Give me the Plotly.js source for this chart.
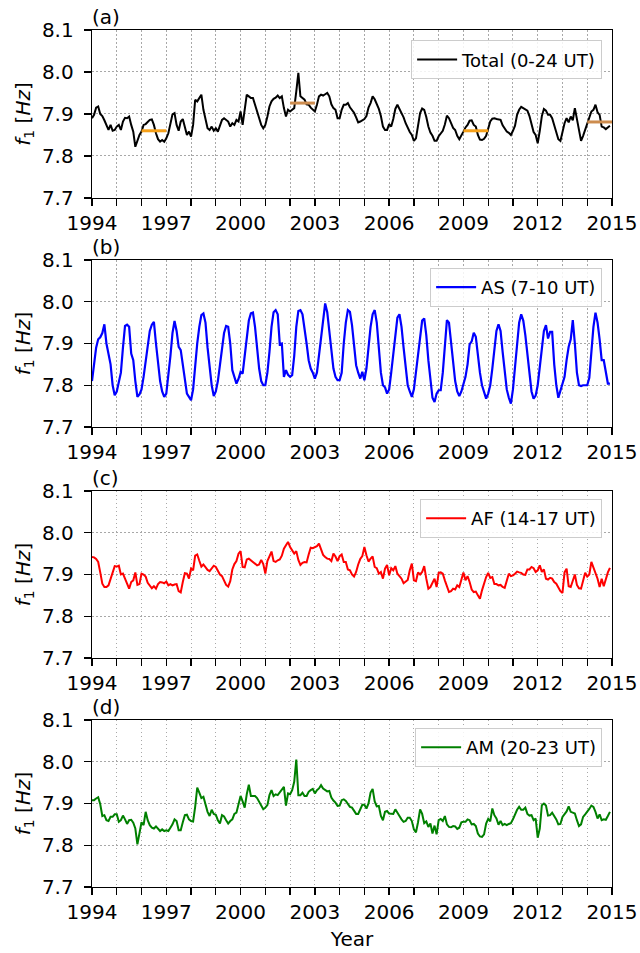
<!DOCTYPE html>
<html>
<head>
<meta charset="utf-8">
<script src="https://cdn.plot.ly/plotly-3.0.1.min.js"></script>
<style>html,body{margin:0;padding:0;background:#fff;}#chart{width:640px;height:953px;}</style>
</head>
<body>
<div id="chart"></div>
<script>
// ---- Data (monthly values, Jan 1994 .. Dec 2014) ----
const startYear = 1994;
const endYear = 2015;

const totalF1 = [
7.89,7.898,7.915,7.918,7.90,7.895,7.885,7.872,7.862,7.874,7.86,7.862,
7.87,7.874,7.862,7.882,7.891,7.89,7.894,7.874,7.858,7.822,7.838,7.85,
7.858,7.874,7.876,7.882,7.886,7.887,7.874,7.854,7.84,7.834,7.838,7.834,
7.842,7.854,7.878,7.899,7.902,7.874,7.86,7.882,7.888,7.87,7.85,7.858,
7.846,7.874,7.934,7.93,7.938,7.946,7.91,7.89,7.866,7.862,7.87,7.86,
7.866,7.858,7.874,7.886,7.89,7.886,7.882,7.87,7.878,7.874,7.886,7.882,
7.906,7.874,7.906,7.946,7.942,7.938,7.938,7.922,7.902,7.886,7.874,7.866,
7.874,7.894,7.918,7.93,7.936,7.939,7.944,7.938,7.942,7.914,7.894,7.91,
7.906,7.91,7.914,7.954,7.998,7.942,7.938,7.934,7.923,7.922,7.915,7.91,
7.906,7.922,7.942,7.946,7.944,7.947,7.95,7.942,7.923,7.914,7.91,7.89,
7.89,7.91,7.922,7.922,7.926,7.916,7.91,7.903,7.892,7.88,7.882,7.886,
7.888,7.895,7.915,7.926,7.942,7.935,7.925,7.912,7.895,7.87,7.862,7.862,
7.876,7.87,7.888,7.912,7.922,7.912,7.905,7.892,7.878,7.866,7.857,7.85,
7.836,7.842,7.868,7.902,7.913,7.91,7.893,7.87,7.856,7.848,7.836,7.836,
7.847,7.855,7.86,7.875,7.896,7.89,7.878,7.867,7.862,7.848,7.84,7.848,
7.858,7.868,7.874,7.884,7.885,7.874,7.87,7.85,7.839,7.838,7.841,7.848,
7.866,7.882,7.889,7.89,7.888,7.887,7.886,7.873,7.865,7.858,7.855,7.85,
7.86,7.872,7.898,7.91,7.917,7.914,7.91,7.908,7.895,7.872,7.857,7.85,
7.83,7.86,7.895,7.912,7.908,7.898,7.898,7.89,7.872,7.855,7.84,7.836,
7.858,7.878,7.89,7.88,7.894,7.885,7.914,7.885,7.858,7.836,7.848,7.862,
7.874,7.888,7.906,7.91,7.922,7.904,7.898,7.87,7.868,7.864,7.868,7.872
];

const asF1 = [
7.81,7.85,7.89,7.91,7.915,7.925,7.946,7.90,7.872,7.85,7.80,7.776,
7.785,7.81,7.83,7.89,7.942,7.945,7.94,7.876,7.86,7.81,7.772,7.778,
7.79,7.82,7.86,7.90,7.93,7.945,7.952,7.90,7.85,7.81,7.785,7.772,
7.78,7.82,7.87,7.925,7.954,7.93,7.892,7.884,7.85,7.81,7.78,7.772,
7.764,7.79,7.85,7.90,7.94,7.968,7.972,7.95,7.89,7.84,7.80,7.774,
7.785,7.81,7.85,7.89,7.925,7.942,7.94,7.90,7.836,7.82,7.804,7.815,
7.832,7.828,7.87,7.92,7.955,7.972,7.974,7.94,7.88,7.84,7.81,7.80,
7.80,7.83,7.88,7.94,7.975,7.98,7.97,7.898,7.90,7.82,7.836,7.825,
7.82,7.824,7.87,7.94,7.978,7.98,7.97,7.94,7.90,7.86,7.84,7.83,
7.816,7.83,7.87,7.92,7.96,7.996,7.975,7.93,7.88,7.84,7.82,7.812,
7.812,7.83,7.90,7.95,7.98,7.976,7.944,7.89,7.848,7.83,7.816,7.832,
7.812,7.84,7.89,7.94,7.97,7.98,7.95,7.89,7.83,7.80,7.795,7.78,
7.79,7.83,7.88,7.93,7.962,7.97,7.94,7.89,7.84,7.80,7.785,7.772,
7.79,7.83,7.88,7.92,7.955,7.96,7.92,7.86,7.81,7.77,7.76,7.78,
7.788,7.788,7.83,7.90,7.956,7.95,7.90,7.85,7.81,7.785,7.774,7.785,
7.80,7.82,7.85,7.898,7.905,7.926,7.916,7.87,7.83,7.80,7.785,7.768,
7.78,7.80,7.84,7.89,7.93,7.946,7.93,7.88,7.83,7.79,7.77,7.756,
7.79,7.84,7.90,7.95,7.97,7.955,7.92,7.87,7.82,7.785,7.768,7.775,
7.80,7.84,7.89,7.93,7.944,7.912,7.928,7.928,7.85,7.80,7.77,7.785,
7.80,7.82,7.86,7.892,7.91,7.956,7.90,7.83,7.80,7.798,7.80,7.80,
7.80,7.818,7.88,7.94,7.974,7.95,7.91,7.86,7.86,7.83,7.804,7.804
];

const afF1 = [
7.942,7.941,7.937,7.93,7.905,7.878,7.87,7.87,7.874,7.89,7.904,7.92,
7.919,7.921,7.9,7.902,7.89,7.878,7.866,7.882,7.886,7.905,7.875,7.877,
7.902,7.9,7.895,7.88,7.872,7.867,7.872,7.866,7.877,7.882,7.881,7.879,
7.883,7.874,7.877,7.874,7.876,7.877,7.86,7.857,7.882,7.903,7.902,7.89,
7.914,7.91,7.945,7.948,7.933,7.919,7.924,7.917,7.911,7.908,7.916,7.921,
7.918,7.91,7.9,7.896,7.886,7.875,7.871,7.884,7.912,7.925,7.932,7.95,
7.956,7.918,7.917,7.936,7.938,7.934,7.931,7.926,7.922,7.924,7.935,7.925,
7.902,7.932,7.944,7.955,7.932,7.93,7.934,7.936,7.945,7.962,7.97,7.978,
7.966,7.958,7.95,7.956,7.935,7.923,7.928,7.93,7.929,7.948,7.964,7.963,
7.966,7.968,7.974,7.959,7.947,7.942,7.938,7.937,7.932,7.95,7.943,7.932,
7.944,7.948,7.93,7.93,7.912,7.91,7.9,7.895,7.906,7.924,7.937,7.944,
7.966,7.946,7.931,7.938,7.943,7.918,7.915,7.902,7.906,7.89,7.914,7.923,
7.898,7.915,7.91,7.92,7.902,7.896,7.89,7.879,7.884,7.887,7.91,7.926,
7.886,7.884,7.905,7.9,7.906,7.92,7.89,7.866,7.87,7.882,7.89,7.87,
7.904,7.905,7.902,7.886,7.87,7.858,7.86,7.866,7.864,7.874,7.87,7.888,
7.905,7.886,7.896,7.882,7.864,7.858,7.859,7.85,7.842,7.862,7.88,7.894,
7.904,7.892,7.894,7.877,7.877,7.874,7.875,7.87,7.868,7.884,7.902,7.896,
7.898,7.902,7.907,7.905,7.904,7.9,7.899,7.912,7.912,7.918,7.915,7.906,
7.91,7.922,7.906,7.912,7.89,7.888,7.892,7.89,7.882,7.878,7.87,7.86,
7.856,7.905,7.914,7.872,7.87,7.885,7.9,7.875,7.867,7.866,7.885,7.904,
7.895,7.9,7.93,7.918,7.902,7.89,7.87,7.89,7.872,7.89,7.905,7.916
];

const amF1 = [
7.908,7.908,7.912,7.915,7.898,7.87,7.872,7.86,7.858,7.868,7.868,7.874,
7.874,7.856,7.86,7.871,7.862,7.851,7.86,7.861,7.854,7.84,7.802,7.826,
7.855,7.848,7.88,7.86,7.848,7.842,7.84,7.845,7.84,7.834,7.838,7.834,
7.836,7.834,7.842,7.85,7.862,7.858,7.836,7.836,7.855,7.872,7.873,7.862,
7.858,7.857,7.892,7.938,7.926,7.913,7.916,7.898,7.88,7.87,7.885,7.875,
7.873,7.86,7.852,7.872,7.869,7.86,7.852,7.858,7.862,7.875,7.878,7.898,
7.918,7.905,7.89,7.922,7.945,7.918,7.918,7.918,7.913,7.905,7.896,7.886,
7.89,7.896,7.92,7.932,7.918,7.922,7.92,7.926,7.932,7.94,7.895,7.924,
7.922,7.932,7.952,8.005,7.92,7.92,7.926,7.918,7.918,7.928,7.932,7.935,
7.924,7.932,7.936,7.944,7.936,7.932,7.929,7.93,7.914,7.907,7.902,7.894,
7.895,7.908,7.91,7.906,7.9,7.892,7.89,7.882,7.875,7.875,7.885,7.897,
7.897,7.888,7.9,7.926,7.935,7.905,7.893,7.894,7.87,7.86,7.88,7.882,
7.876,7.876,7.875,7.886,7.876,7.87,7.862,7.856,7.858,7.866,7.866,7.858,
7.838,7.831,7.855,7.886,7.875,7.853,7.857,7.844,7.852,7.828,7.847,7.826,
7.86,7.863,7.858,7.87,7.85,7.844,7.843,7.846,7.845,7.839,7.842,7.855,
7.856,7.856,7.862,7.86,7.85,7.851,7.846,7.828,7.821,7.82,7.826,7.852,
7.863,7.857,7.888,7.872,7.864,7.849,7.858,7.848,7.851,7.848,7.851,7.853,
7.862,7.876,7.885,7.892,7.885,7.885,7.89,7.875,7.871,7.872,7.86,7.864,
7.818,7.84,7.896,7.9,7.895,7.871,7.872,7.878,7.87,7.862,7.85,7.851,
7.868,7.875,7.881,7.893,7.88,7.878,7.876,7.86,7.846,7.85,7.868,7.874,
7.88,7.887,7.895,7.892,7.88,7.864,7.874,7.86,7.862,7.861,7.87,7.88
];

// Solar-cycle mean levels of the total series (panel a)
const minPeriodStart = [1996, 2009];
const minPeriodEnd   = [1997, 2010];
const minPeriodLevel = [7.86, 7.86];
const maxPeriodStart = [2002, 2014];
const maxPeriodEnd   = [2003, 2015];
const maxPeriodLevel = [7.926, 7.881];

const seriesNames = ['Total (0-24 UT)', 'AS (7-10 UT)', 'AF (14-17 UT)', 'AM (20-23 UT)'];
const seriesColors = ['#000000', '#0000ff', '#ff0000', '#008000'];
const panelLabels = ['(a)', '(b)', '(c)', '(d)'];
const yTickVals = [7.7, 7.8, 7.9, 8.0, 8.1];
const yTickText = ['7.7', '7.8', '7.9', '8.0', '8.1'];

// ---- Build ----
const months = [];
for (let y = startYear; y < endYear; y++) {
  for (let m = 0; m < 12; m++) months.push(y + m / 12);
}
const yearTicks = [];
const yearText = [];
for (let y = startYear; y <= endYear; y++) {
  yearTicks.push(y);
  yearText.push((y - startYear) % 3 === 0 ? String(y) : '');
}

const allSeries = [totalF1, asF1, afF1, amF1];
const domains = [[0.8040, 1.0], [0.5368, 0.7316], [0.2672, 0.4621], [0.0, 0.1949]];
const legendY = [0.988, 0.7223, 0.4527, 0.1855];

const traces = [];
allSeries.forEach((vals, i) => {
  const sfx = i === 0 ? '' : String(i + 1);
  traces.push({
    x: months, y: vals, type: 'scatter', mode: 'lines',
    name: seriesNames[i],
    line: {color: seriesColors[i], width: i === 1 ? 2.2 : 2},
    xaxis: 'x' + sfx, yaxis: 'y' + sfx,
    legend: 'legend' + sfx,
    showlegend: true
  });
});
for (let k = 0; k < minPeriodStart.length; k++) {
  traces.push({x: [minPeriodStart[k], minPeriodEnd[k]], y: [minPeriodLevel[k], minPeriodLevel[k]],
    type: 'scatter', mode: 'lines', line: {color: '#f5a01a', width: 3}, showlegend: false,
    xaxis: 'x', yaxis: 'y', hoverinfo: 'skip'});
}
for (let k = 0; k < maxPeriodStart.length; k++) {
  traces.push({x: [maxPeriodStart[k], maxPeriodEnd[k]], y: [maxPeriodLevel[k], maxPeriodLevel[k]],
    type: 'scatter', mode: 'lines', line: {color: '#cd8c4e', width: 3}, showlegend: false,
    xaxis: 'x', yaxis: 'y', hoverinfo: 'skip'});
}

const layout = {
  width: 640, height: 953,
  margin: {l: 92, r: 28, t: 30, b: 66},
  paper_bgcolor: '#ffffff', plot_bgcolor: '#ffffff',
  font: {family: 'DejaVu Sans, sans-serif', size: 20, color: '#000000'},
  annotations: []
};

for (let i = 0; i < 4; i++) {
  const sfx = i === 0 ? '' : String(i + 1);
  layout['xaxis' + sfx] = {
    domain: [0, 1], anchor: 'y' + sfx,
    range: [startYear, endYear],
    tickmode: 'array', tickvals: yearTicks, ticktext: yearText,
    tickangle: 0,
    ticks: 'outside', ticklen: 7, tickwidth: 1.3, tickcolor: '#000',
    ticklabelstandoff: 0,
    showline: true, linecolor: '#000', linewidth: 1.3, mirror: true,
    showgrid: true, gridcolor: '#a8a8a8', griddash: '1.5px,2.5px', gridwidth: 1,
    zeroline: false, tickfont: {size: 20},
    title: i === 3 ? {text: 'Year', font: {size: 20}, standoff: 8} : {text: ''}
  };
  layout['yaxis' + sfx] = {
    domain: domains[i], anchor: 'x' + sfx,
    range: [7.7, 8.1],
    tickmode: 'array', tickvals: yTickVals, ticktext: yTickText,
    ticks: 'outside', ticklen: 7, tickwidth: 1.3, tickcolor: '#000',
    ticklabelstandoff: 6,
    showline: true, linecolor: '#000', linewidth: 1.3, mirror: true,
    showgrid: true, gridcolor: '#a8a8a8', griddash: '1.5px,2.5px', gridwidth: 1,
    zeroline: false, tickfont: {size: 20},
    title: {text: '<i>f</i><sub>1</sub> [<i>Hz</i>]', font: {size: 20}, standoff: 6}
  };
  layout['legend' + sfx] = {
    x: 0.981, xanchor: 'right', y: legendY[i], yanchor: 'top',
    bgcolor: 'rgba(255,255,255,0.85)', bordercolor: '#cccccc', borderwidth: 1,
    font: {size: 18}, itemwidth: 40
  };
  layout.annotations.push({
    text: panelLabels[i], xref: 'paper', yref: 'paper',
    x: 0, xanchor: 'left', y: domains[i][1], yanchor: 'bottom',
    showarrow: false, font: {size: 20}, xshift: -2, yshift: -1
  });
}

Plotly.newPlot('chart', traces, layout, {staticPlot: true, displayModeBar: false});
</script>
</body>
</html>
